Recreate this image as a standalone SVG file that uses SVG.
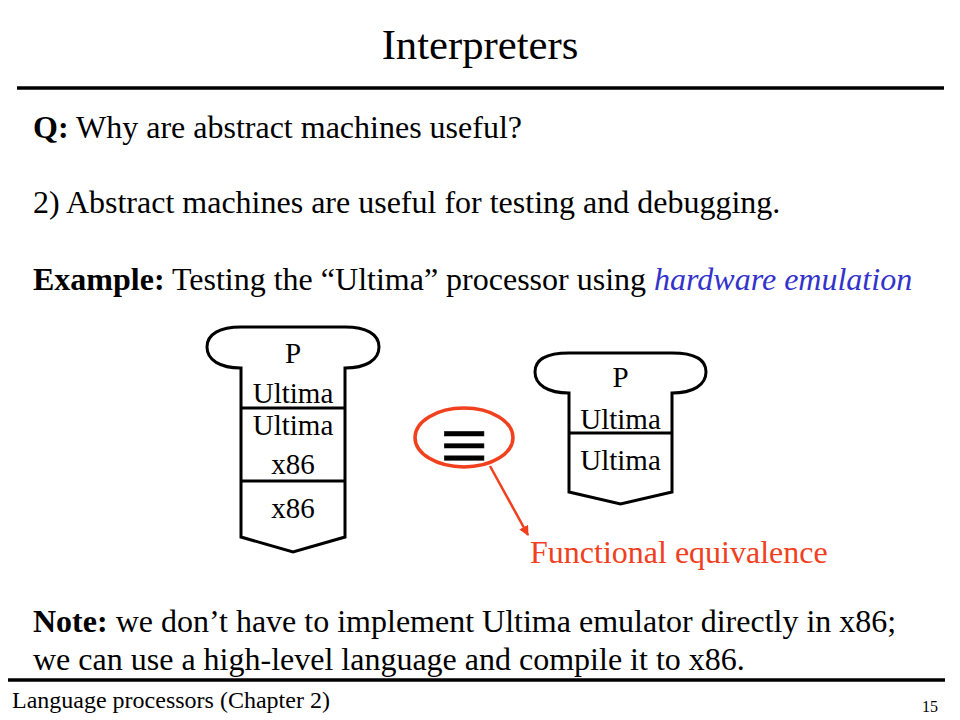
<svg xmlns="http://www.w3.org/2000/svg" width="960" height="720" viewBox="0 0 960 720">
<defs>
<style>
text{font-family:"Liberation Serif","Times New Roman",serif;fill:#000}
.body{font-size:32px}
.lbl{font-size:29px;text-anchor:middle}
.shape{fill:#fff;stroke:#000;stroke-width:3;stroke-linejoin:miter}
.div{stroke:#000;stroke-width:3}
.rule{stroke:#000;stroke-width:3.5}
.red{fill:#F0401E}
</style>
<marker id="ah" viewBox="0 0 10 10" refX="9" refY="5" markerWidth="4" markerHeight="4" orient="auto" markerUnits="strokeWidth">
<path d="M0,0 L10,5 L0,10 Z" fill="#F0401E"/>
</marker>
</defs>
<rect width="960" height="720" fill="#fff"/>
<text x="480" y="59" font-size="42.7" text-anchor="middle">Interpreters</text>
<line class="rule" x1="17" y1="88" x2="944" y2="88"/>
<text class="body" x="33" y="138"><tspan font-weight="bold">Q:</tspan> Why are abstract machines useful?</text>
<text class="body" x="33" y="213">2) Abstract machines are useful for testing and debugging.</text>
<text class="body" x="33" y="290"><tspan font-weight="bold">Example:</tspan> Testing the “Ultima” processor using <tspan font-style="italic" fill="#3333CC">hardware emulation</tspan></text>

<g id="node-left">
<path class="shape" d="M241,368 C220,368 207,360 207,347 C207,334 220,327 241,327 L345,327 C366,327 379,334 379,347 C379,360 366,368 345,368 L345,537 L293,552 L241,537 Z"/>
<line class="div" x1="241" y1="408" x2="345" y2="408"/>
<line class="div" x1="241" y1="481" x2="345" y2="481"/>
<text class="lbl" x="293" y="363">P</text>
<text class="lbl" x="293" y="403">Ultima</text>
<text class="lbl" x="293" y="435">Ultima</text>
<text class="lbl" x="293" y="474">x86</text>
<text class="lbl" x="293" y="518">x86</text>
</g>

<g id="node-right">
<path class="shape" d="M569,393 C548,393 535,385 535,372 C535,359 548,353 569,353 L672,353 C693,353 706,359 706,372 C706,385 693,393 672,393 L672,492 L620.5,504 L569,492 Z"/>
<line class="div" x1="569" y1="433" x2="672" y2="433"/>
<text class="lbl" x="620.5" y="387">P</text>
<text class="lbl" x="620.5" y="429">Ultima</text>
<text class="lbl" x="620.5" y="470">Ultima</text>
</g>

<g id="node-equiv">
<ellipse cx="464" cy="437.5" rx="49" ry="29.5" fill="none" stroke="#F0401E" stroke-width="3.5"/>
<text x="464" y="474" font-size="85" text-anchor="middle" font-family="DejaVu Sans, sans-serif" stroke="#000" stroke-width="0.6">≡</text>
</g>

<g id="connectors">
<line x1="490" y1="466" x2="528" y2="535" stroke="#F0401E" stroke-width="2.5" marker-end="url(#ah)"/>
</g>

<text class="body red" x="530" y="563">Functional equivalence</text>

<text class="body" x="33" y="632"><tspan font-weight="bold">Note:</tspan> we don’t have to implement Ultima emulator directly in x86;</text>
<text class="body" x="33" y="670">we can use a high-level language and compile it to x86.</text>
<line class="rule" x1="8" y1="680" x2="945" y2="680"/>
<text x="12" y="708" font-size="24">Language processors (Chapter 2)</text>
<text x="938" y="712" font-size="16" text-anchor="end">15</text>
</svg>
